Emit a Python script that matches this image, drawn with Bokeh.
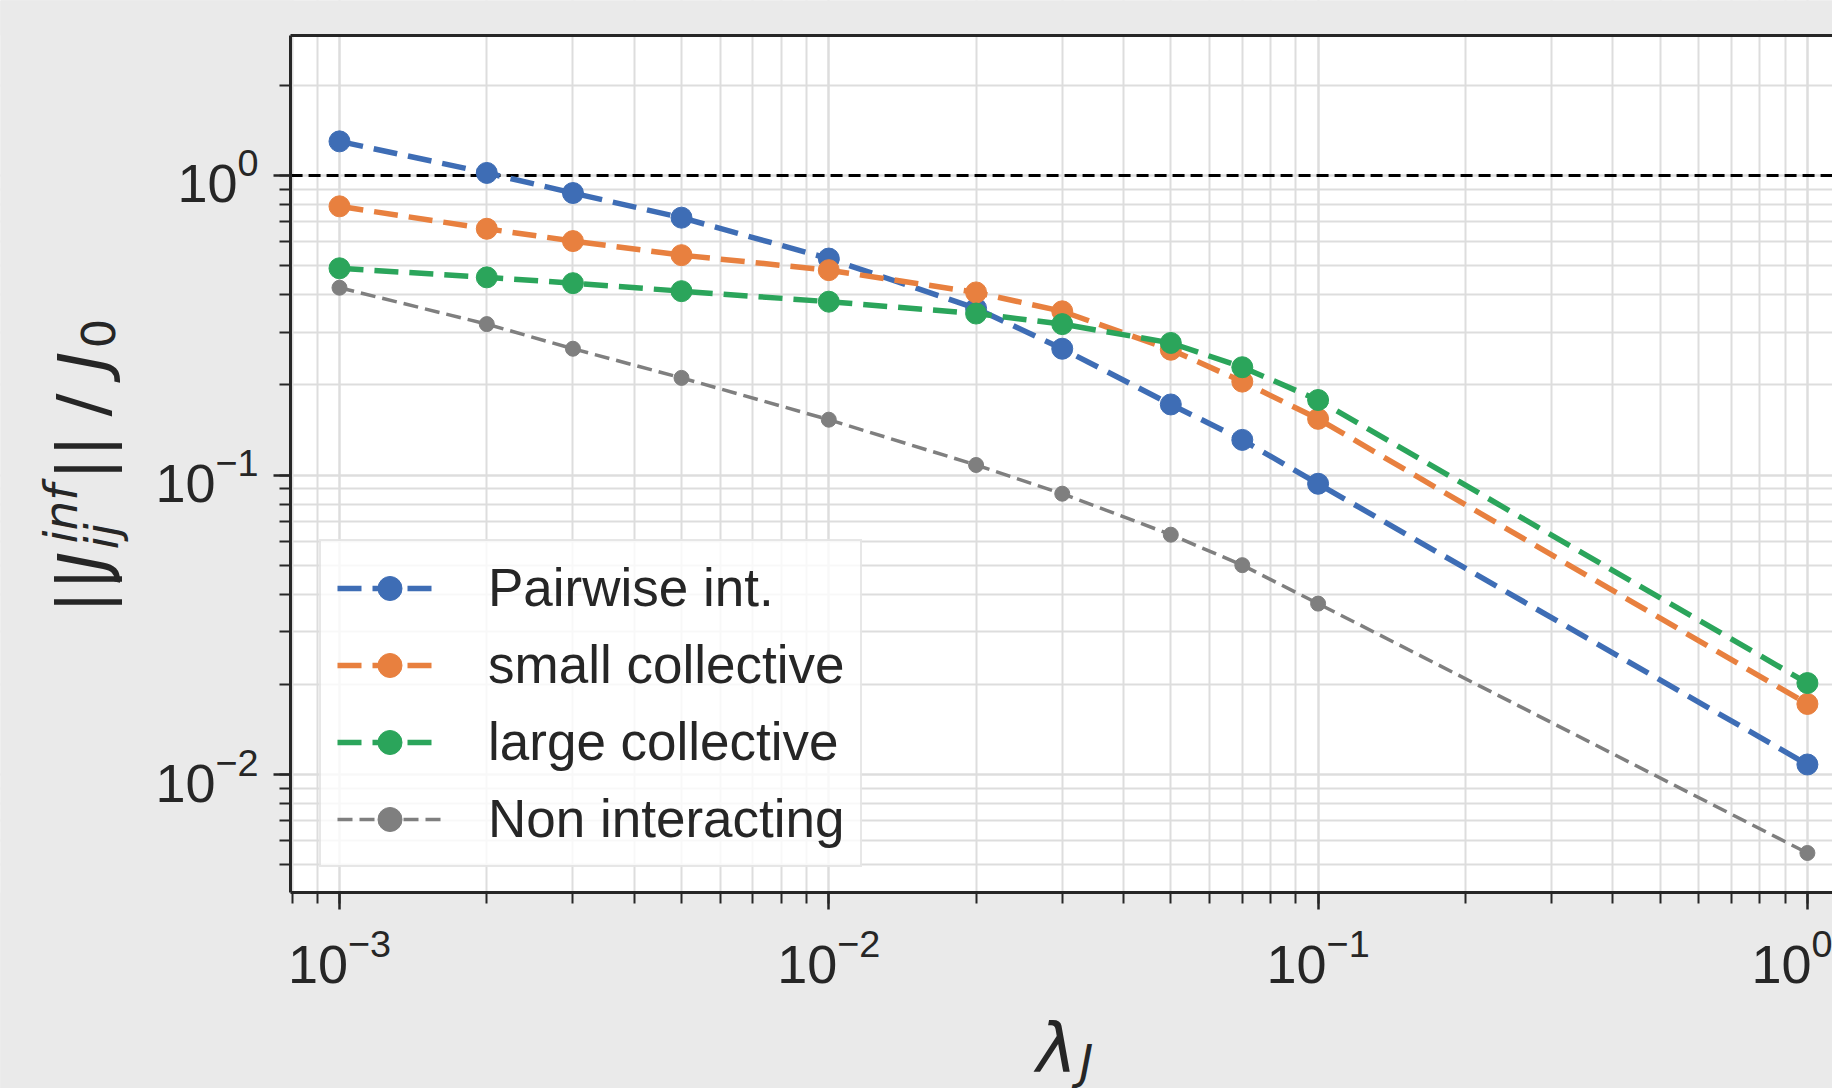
import math
from bokeh.plotting import figure
from bokeh.models import (Range1d, LogAxis, LogTicker, FixedTicker, Label,
                          Legend, LegendItem, BoxAnnotation)
from bokeh.embed import file_html
from bokeh.resources import INLINE

# ---------------- data ----------------
lam = [1e-3, 2e-3, 3e-3, 5e-3, 1e-2, 2e-2, 3e-2, 5e-2, 7e-2, 1e-1, 1.0]
pairwise = [1.30, 1.02, 0.874, 0.723, 0.528, 0.36, 0.264, 0.172, 0.131, 0.0935, 0.0108]
small_coll = [0.789, 0.664, 0.604, 0.542, 0.483, 0.407, 0.352, 0.262, 0.205, 0.154, 0.0172]
large_coll = [0.490, 0.457, 0.437, 0.411, 0.379, 0.346, 0.319, 0.276, 0.229, 0.178, 0.0202]
non_int = [0.422, 0.319, 0.264, 0.211, 0.153, 0.108, 0.0866, 0.0632, 0.050, 0.0372, 0.00547]
series_names = ["Pairwise int.", "small collective", "large collective", "Non interacting"]
ref_level = 1.0

# ---------------- style ----------------
colors = ["#3E6DB5", "#E8803F", "#2BA55B", "#7F7F7F"]
line_widths = [5.5, 5.5, 5.5, 3.5]
dashes = ["24 11", "24 11", "24 11", "15 7"]
marker_sizes = [21, 21, 21, 15]
BG = "#EAEAEA"
DARK = "#262626"
GRID = "#DDDDDD"
TICK_FONT = "Liberation Sans"
MATH_FONT = "DejaVu Sans"

W, H = 1832, 1088
# plot-area limits (axes box) and full canvas ranges
X_LO, X_HI = 10 ** -3.1, 10 ** 0.0513
Y_LO, Y_HI = 10 ** -2.394, 10 ** 0.4674
XR = Range1d(10 ** -3.6928, 10 ** 0.0513)
YR = Range1d(10 ** -3.0484, 10 ** 0.5843)

p = figure(width=W, height=H, x_axis_type="log", y_axis_type="log",
           x_range=XR, y_range=YR, output_backend="svg", toolbar_location=None,
           min_border=0)
p.background_fill_color = BG
p.border_fill_color = BG
p.outline_line_color = None

p.add_layout(BoxAnnotation(left=X_LO, right=X_HI, bottom=Y_LO, top=Y_HI,
                           fill_color="white", fill_alpha=1, line_color=None,
                           level="image"))

for ax in (p.xaxis[0], p.yaxis[0]):
    ax.ticker = LogTicker(mantissas=[1], num_minor_ticks=10)
    ax.axis_line_color = DARK
    ax.axis_line_width = 3
    ax.major_tick_line_color = DARK
    ax.minor_tick_line_color = DARK
    ax.major_tick_line_width = 2.5
    ax.minor_tick_line_width = 2
    ax.major_tick_in = 0
    ax.minor_tick_in = 0
    ax.major_tick_out = 17
    ax.minor_tick_out = 11
    ax.major_label_text_font = TICK_FONT
    ax.major_label_text_font_size = "54px"
    ax.major_label_text_color = DARK
p.xaxis[0].fixed_location = Y_LO
p.xaxis[0].bounds = (X_LO, X_HI)
p.yaxis[0].fixed_location = X_LO
p.yaxis[0].bounds = (Y_LO, Y_HI)
p.xaxis[0].major_label_standoff = 19
p.yaxis[0].major_label_standoff = 15

# top spine
top = LogAxis(ticker=FixedTicker(ticks=[], minor_ticks=[]),
              axis_line_color=DARK, axis_line_width=3,
              major_tick_line_color=None, minor_tick_line_color=None,
              fixed_location=Y_HI, bounds=(X_LO, X_HI))
p.add_layout(top, "above")

for g in (p.xgrid[0], p.ygrid[0]):
    g.grid_line_color = GRID
    g.grid_line_width = 2
    g.minor_grid_line_color = GRID
    g.minor_grid_line_width = 2
    g.ticker = LogTicker(mantissas=[1], num_minor_ticks=10)

# grey margins outside the axes box (cover grid ends)
for kw in (dict(left=10 ** -5, right=X_LO, bottom=10 ** -5, top=10 ** 2),
           dict(left=10 ** -5, right=10 ** 2, bottom=Y_HI, top=10 ** 2),
           dict(left=10 ** -5, right=10 ** 2, bottom=10 ** -5, top=Y_LO)):
    p.add_layout(BoxAnnotation(fill_color=BG, fill_alpha=1, line_color=None,
                               level="underlay", **kw))

# horizontal reference line at ||J|| / J0 = 1 across the axes box
p.line([X_LO, X_HI], [ref_level, ref_level], line_color="black",
       line_width=3, line_dash="12 6")

items = []
for name, ys, c, lw, d, ms in zip(series_names, [pairwise, small_coll, large_coll, non_int],
                                 colors, line_widths, dashes, marker_sizes):
    lr = p.line(lam, ys, line_color=c, line_width=lw, line_dash=d)
    sr = p.scatter(lam, ys, size=ms, fill_color=c, line_color=c)
    items.append(LegendItem(label=name, renderers=[lr, sr]))

legend = Legend(items=items, location=(319, H - 867),
                label_text_font=TICK_FONT, label_text_font_size="53px",
                label_text_color=DARK, glyph_width=105, glyph_height=60,
                label_height=60, label_standoff=46, spacing=16, padding=16,
                margin=0, border_line_color="#D0D0D0", border_line_width=2,
                background_fill_color="white", background_fill_alpha=0.8)
p.add_layout(legend)

# ---------------- axis titles (built from text pieces) ----------------
BASE_SHIFT = 0.33  # baseline correction, in em


def put(txt, X, Y, size, italic=False, rotated=False):
    if rotated:
        X = X - BASE_SHIFT * size
    else:
        Y = Y - BASE_SHIFT * size
    p.add_layout(Label(x=X, y=H - Y, x_units="screen", y_units="screen",
                       text=txt, angle=math.pi / 2 if rotated else 0.0,
                       text_font=MATH_FONT, text_font_size=f"{size}px",
                       text_font_style="italic" if italic else "normal",
                       text_color=DARK, text_align="left",
                       text_baseline="alphabetic"))


put("||", 104, 613, 68, rotated=True)
put("J", 104, 571, 68, italic=True, rotated=True)
put("ij", 117, 549, 47, italic=True, rotated=True)
put("inf", 76, 543, 47, italic=True, rotated=True)
put("||", 104, 480, 68, rotated=True)
put("/", 104, 416, 68, rotated=True)
put("J", 104, 371, 68, italic=True, rotated=True)
put("0", 113, 348, 47, rotated=True)

put("λ", 1036, 1070, 68, italic=True)
put("J", 1079, 1077, 47, italic=True)

open("out.html", "w").write(file_html(p, INLINE))
